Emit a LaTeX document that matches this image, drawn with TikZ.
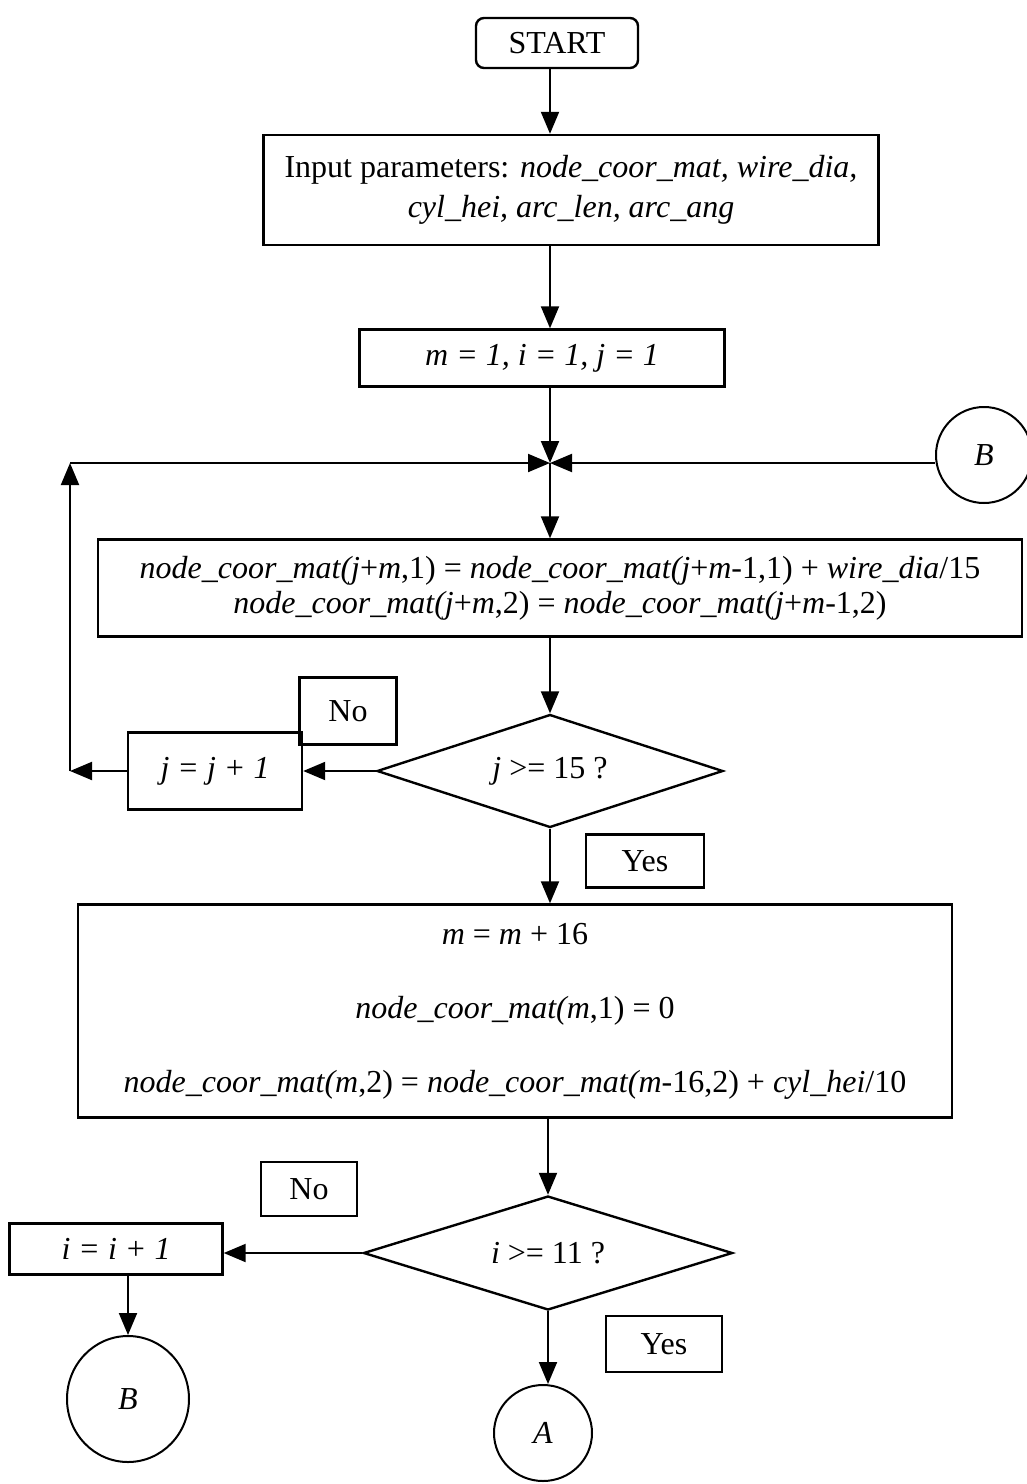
\documentclass[tikz,border=0pt]{standalone}
\usepackage{fontspec}
\setmainfont{Liberation Serif}
\usetikzlibrary{shapes.geometric,arrows.meta}

\tikzset{every picture/.style={line width=1pt}}
\tikzset{
	txt/.style={font=\fontsize{16}{19}\selectfont},
	box/.style={draw, rectangle, line width=1.2pt, inner sep=0pt, align=center, txt},
	decision/.style={draw, diamond, line width=1.2pt, inner sep=0pt, txt},
	connector/.style={draw, ellipse, line width=1pt, inner sep=0pt, txt},
	flow/.style={line width=1pt, -{Triangle[length=11pt,width=9pt]}},
}

\begin{document}
\begin{tikzpicture}[x=0.5pt,y=0.5pt,yscale=-1,xscale=1]
	\useasboundingbox (0,0) rectangle (1027,1484);
	
	%Shape: Rounded Rectangle [id:start]
	\node (start) [box, rounded corners=4pt, minimum width=81pt, minimum height=25pt] at (557,43) {START};
	%Shape: Rectangle [id:input]
	\node (input) [box, minimum width=307.5pt, minimum height=55pt, execute at begin node=\setlength{\baselineskip}{20pt}] at (571,190)
		{Input parameters: \textit{node\_coor\_mat, wire\_dia,}\\ \textit{cyl\_hei, arc\_len, arc\_ang}};
	%Shape: Rectangle [id:init]
	\node (init) [box, minimum width=182.5pt, minimum height=28.5pt] at (542,358) {\textit{m = 1, i = 1, j = 1}};
	%Shape: Circle [id:btop]
	\node (btop) [connector, minimum width=48pt, minimum height=48pt] at (984,455) {\textit{B}};
	\coordinate (join) at (550,463);
	%Shape: Rectangle [id:update]
	\node (update) [box, minimum width=462pt, minimum height=48.5pt, execute at begin node=\setlength{\baselineskip}{17.5pt}] at (560,588)
		{\textit{node\_coor\_mat(j}+\textit{m},1) = \textit{node\_coor\_mat(j}+\textit{m}-1,1) + \textit{wire\_dia}/15\\
		 \textit{node\_coor\_mat(j}+\textit{m},2) = \textit{node\_coor\_mat(j}+\textit{m}-1,2)};
	%Shape: Diamond [id:dj]
	\node (dj) [decision, aspect=3.06, minimum width=173pt, minimum height=56.5pt] at (550,771) {\textit{j} >= 15 ?};
	%Shape: Rectangle [id:noj]
	\node (noj) [box, minimum width=48.5pt, minimum height=33.5pt] at (348,711) {No};
	%Shape: Rectangle [id:jinc]
	\node (jinc) [box, minimum width=87pt, minimum height=38.5pt] at (215,771) {\textit{j = j + 1}};
	\coordinate (lb) at (70,771);
	\coordinate (lt) at (70,463);
	%Shape: Rectangle [id:yesj]
	\node (yesj) [box, minimum width=59pt, minimum height=26.5pt] at (645,861) {Yes};
	%Shape: Rectangle [id:next]
	\node (next) [box, minimum width=437pt, minimum height=106.5pt] at (515,1011)
		{\textit{m} = \textit{m} + 16\\[18pt]
		 \textit{node\_coor\_mat(m},1) = 0\\[18pt]
		 \textit{node\_coor\_mat(m},2) = \textit{node\_coor\_mat(m}-16,2) + \textit{cyl\_hei}/10};
	%Shape: Diamond [id:di]
	\node (di) [decision, aspect=3.24, minimum width=184.5pt, minimum height=57pt] at (548,1253) {\textit{i} >= 11 ?};
	%Shape: Rectangle [id:noi]
	\node (noi) [box, minimum width=48pt, minimum height=27pt] at (309,1189) {No};
	%Shape: Rectangle [id:iinc]
	\node (iinc) [box, minimum width=106.5pt, minimum height=25.5pt] at (116,1249) {\textit{i = i + 1}};
	%Shape: Rectangle [id:yesi]
	\node (yesi) [box, minimum width=58pt, minimum height=28pt] at (664,1344) {Yes};
	%Shape: Circle [id:bbot]
	\node (bbot) [connector, minimum width=61pt, minimum height=63pt] at (128,1399) {\textit{B}};
	%Shape: Circle [id:aend]
	\node (aend) [connector, minimum width=49pt, minimum height=48pt] at (543,1433) {\textit{A}};
	
	%Straight Lines
	\draw [flow] (start.south -| join) -- (input.north -| join);
	\draw [flow] (input.south -| join) -- (init.north -| join);
	\draw [flow] (init.south -| join) -- (join);
	\draw [flow] (btop.west |- join) -- (join);
	\draw [flow] (join) -- (update.north -| join);
	\draw [flow] (update.south -| join) -- (dj.north);
	\draw [flow] (dj.west) -- (jinc.east);
	\draw [flow] (jinc.west) -- (lb);
	\draw [flow] (lb) -- (lt);
	\draw [flow] (lt) -- (join);
	\draw [flow] (dj.south) -- (next.north -| dj);
	\draw [flow] (next.south -| di) -- (di.north);
	\draw [flow] (di.west) -- (iinc.east |- di);
	\draw [flow] (iinc.south -| bbot) -- (bbot.north);
	\draw [flow] (di.south) -- (aend.north -| di);
	
\end{tikzpicture}
\end{document}
